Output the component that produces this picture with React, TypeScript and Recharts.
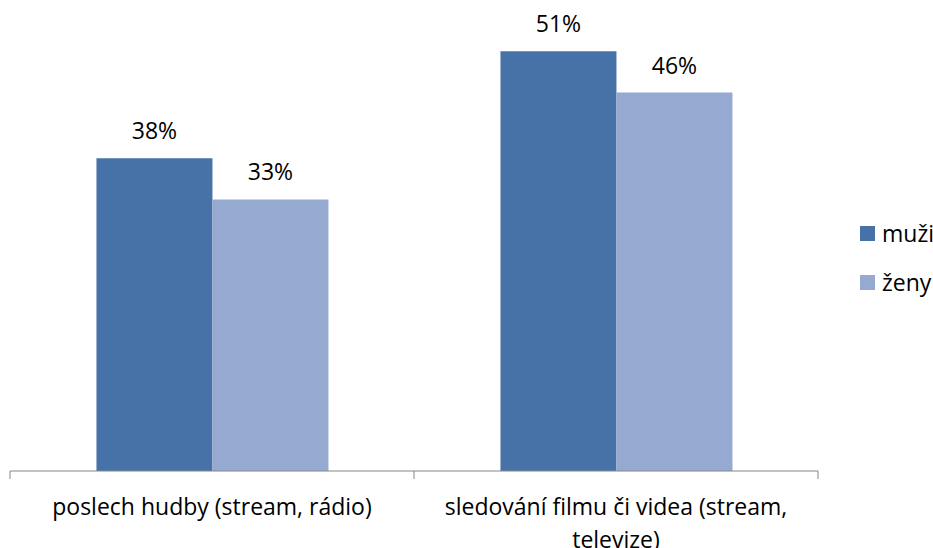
import { Bar, BarChart, LabelList, XAxis, YAxis } from "recharts";

const categories = ["poslech hudby (stream, rádio)", "sledování filmu či videa (stream, televize)"];
const seriesNames = ["muži", "ženy"];
const muzi = [38, 51];
const zeny = [33, 46];

const MUZI_COLOR = "#4672A7";
const ZENY_COLOR = "#96AAD1";
const AXIS_COLOR = "#868686";
const FONT = "'Open Sans', 'Noto Sans', sans-serif";
const FONT_SIZE = 23;

const W = 933;
const H = 548;
const margin = { top: 2, right: 115, left: 10, bottom: 47 };
const bandWidth = (W - margin.left - margin.right) / categories.length;

const data = categories.map((name, i) => ({ name, muzi: muzi[i], zeny: zeny[i] }));

// greedy word wrap measured with a canvas
function wrapLabel(text: string, maxWidth: number): string[] {
  const ctx = document.createElement("canvas").getContext("2d");
  if (!ctx) return [text];
  ctx.font = `${FONT_SIZE}px ${FONT}`;
  const lines: string[] = [];
  let cur = "";
  for (const word of text.split(" ")) {
    const next = cur ? `${cur} ${word}` : word;
    if (cur && ctx.measureText(next).width > maxWidth) {
      lines.push(cur);
      cur = word;
    } else {
      cur = next;
    }
  }
  if (cur) lines.push(cur);
  return lines;
}

const CategoryTick = (props: any) => {
  const { x, y, payload, index, visibleTicksCount } = props;
  const left = x - bandWidth / 2;
  const right = x + bandWidth / 2;
  const lines = wrapLabel(String(payload.value), 380);
  return (
    <g>
      <line x1={left} x2={left} y1={y} y2={y + 8} stroke={AXIS_COLOR} />
      {index === visibleTicksCount - 1 && (
        <line x1={right} x2={right} y1={y} y2={y + 8} stroke={AXIS_COLOR} />
      )}
      <text
        x={x}
        y={y + 44}
        textAnchor="middle"
        fill="#000"
        style={{ fontFamily: FONT, fontSize: FONT_SIZE }}
      >
        {lines.map((line, i) => (
          <tspan key={i} x={x} dy={i === 0 ? 0 : 33}>
            {line}
          </tspan>
        ))}
      </text>
    </g>
  );
};

const legendColors = [MUZI_COLOR, ZENY_COLOR];

export default function App() {
  return (
    <div style={{ position: "absolute", left: 0, top: 0, width: W, height: H, background: "#fff" }}>
      <BarChart width={W} height={H} data={data} margin={margin} barGap={0} barCategoryGap="21.4%">
        <XAxis
          dataKey="name"
          height={30}
          axisLine={{ stroke: AXIS_COLOR }}
          tickLine={false}
          tickSize={0}
          tickMargin={0}
          interval={0}
          tick={<CategoryTick />}
        />
        <YAxis hide domain={[0, 57]} />
        <Bar dataKey="muzi" name={seriesNames[0]} fill={MUZI_COLOR} isAnimationActive={false}>
          <LabelList
            dataKey="muzi"
            position="top"
            offset={19}
            formatter={(v: any) => `${v}%`}
            style={{ fontFamily: FONT, fontSize: FONT_SIZE, fill: "#000" }}
          />
        </Bar>
        <Bar dataKey="zeny" name={seriesNames[1]} fill={ZENY_COLOR} isAnimationActive={false}>
          <LabelList
            dataKey="zeny"
            position="top"
            offset={19}
            formatter={(v: any) => `${v}%`}
            style={{ fontFamily: FONT, fontSize: FONT_SIZE, fill: "#000" }}
          />
        </Bar>
      </BarChart>
      <div
        style={{
          position: "absolute",
          left: 860,
          top: 219,
          fontFamily: FONT,
          fontSize: FONT_SIZE,
          color: "#000",
        }}
      >
        {seriesNames.map((label, i) => (
          <div key={label} style={{ display: "flex", alignItems: "center", height: 28, marginBottom: 21 }}>
            <span style={{ width: 15, height: 15, background: legendColors[i], marginRight: 7 }} />
            <span style={{ lineHeight: "28px" }}>{label}</span>
          </div>
        ))}
      </div>
    </div>
  );
}
